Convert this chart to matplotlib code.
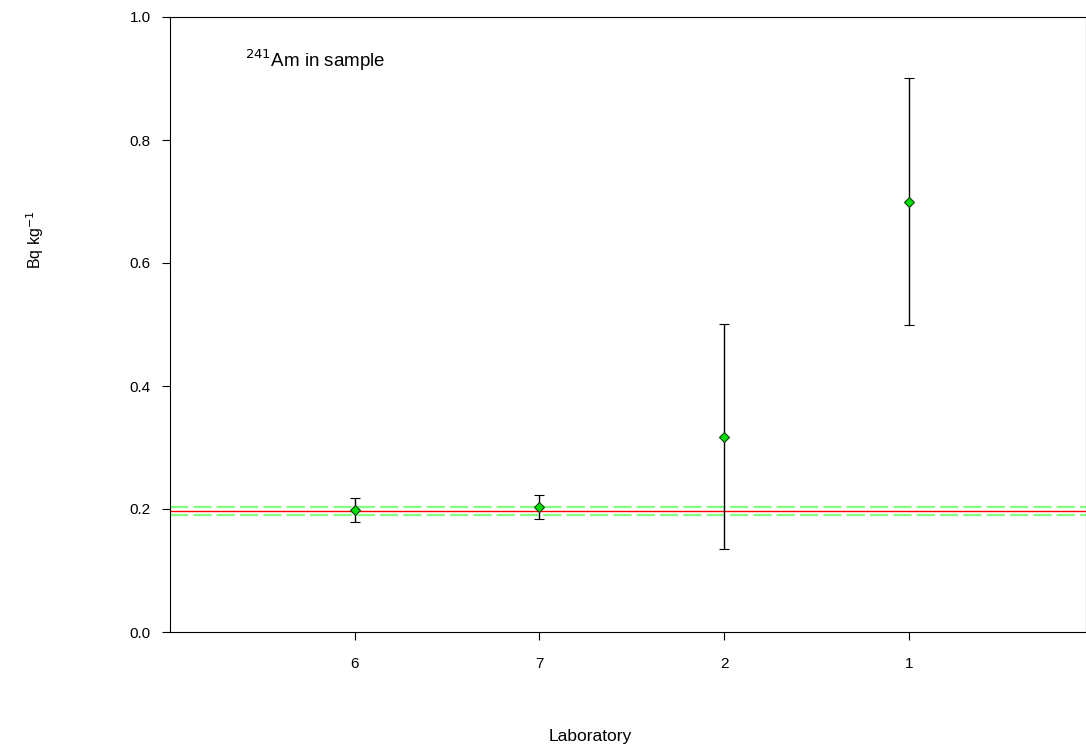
import matplotlib
matplotlib.use("Agg")
import matplotlib.pyplot as plt

labs = ["6", "7", "2", "1"]
values = [0.198, 0.203, 0.317, 0.700]
err_low = [0.179, 0.184, 0.135, 0.500]
err_high = [0.218, 0.223, 0.501, 0.901]
ref_value = 0.196
ref_low = 0.191
ref_high = 0.203

plt.rcParams['font.family'] = ['Liberation Sans', 'DejaVu Sans']

fig = plt.figure(figsize=(10.86, 7.49), dpi=100)
ax = fig.add_axes([170/1086, 117/749, 916/1086, 615/749])

x = list(range(1, len(labs) + 1))
ylo = [v - l for v, l in zip(values, err_low)]
yhi = [h - v for v, h in zip(values, err_high)]

ax.axhline(ref_value, color='red', lw=1.0, zorder=1)
ax.axhline(ref_high, color='#80ff80', lw=1.6, ls=(0, (8.2, 2.3)), zorder=1)
ax.axhline(ref_low, color='#80ff80', lw=1.6, ls=(0, (8.2, 2.3)), zorder=1)

ax.errorbar(x, values, yerr=[ylo, yhi], fmt='D', ms=5, mfc='#00e000', mec='#104010',
            mew=0.8, ecolor='black', elinewidth=1.0, capsize=3.4, capthick=1.0, zorder=3)

ax.set_xlim(0, 916/184.7)
ax.set_ylim(0, 1.0)
ax.set_xticks(x)
ax.set_xticklabels(labs)
ax.set_yticks([0, 0.2, 0.4, 0.6, 0.8, 1.0])
ax.set_yticklabels(["0.0", "0.2", "0.4", "0.6", "0.8", "1.0"])
ax.tick_params(axis='both', direction='out', length=6, width=0.8, labelsize=11, pad=8)
ax.tick_params(axis='x', pad=12)
for s in ax.spines.values():
    s.set_linewidth(0.8)

ax.text(245/1086, 1 - 60/749, r"$^{241}$Am in sample", transform=fig.transFigure,
        fontsize=13.5, va='center', ha='left')
fig.text(35/1086, 1 - 240/749, r"Bq kg$^{-1}$", rotation=90, fontsize=11.5,
         va='center', ha='center')
fig.text(590/1086, 1 - 736/749, "Laboratory", fontsize=12.5, va='center', ha='center')

fig.savefig("out.png", dpi=100)
